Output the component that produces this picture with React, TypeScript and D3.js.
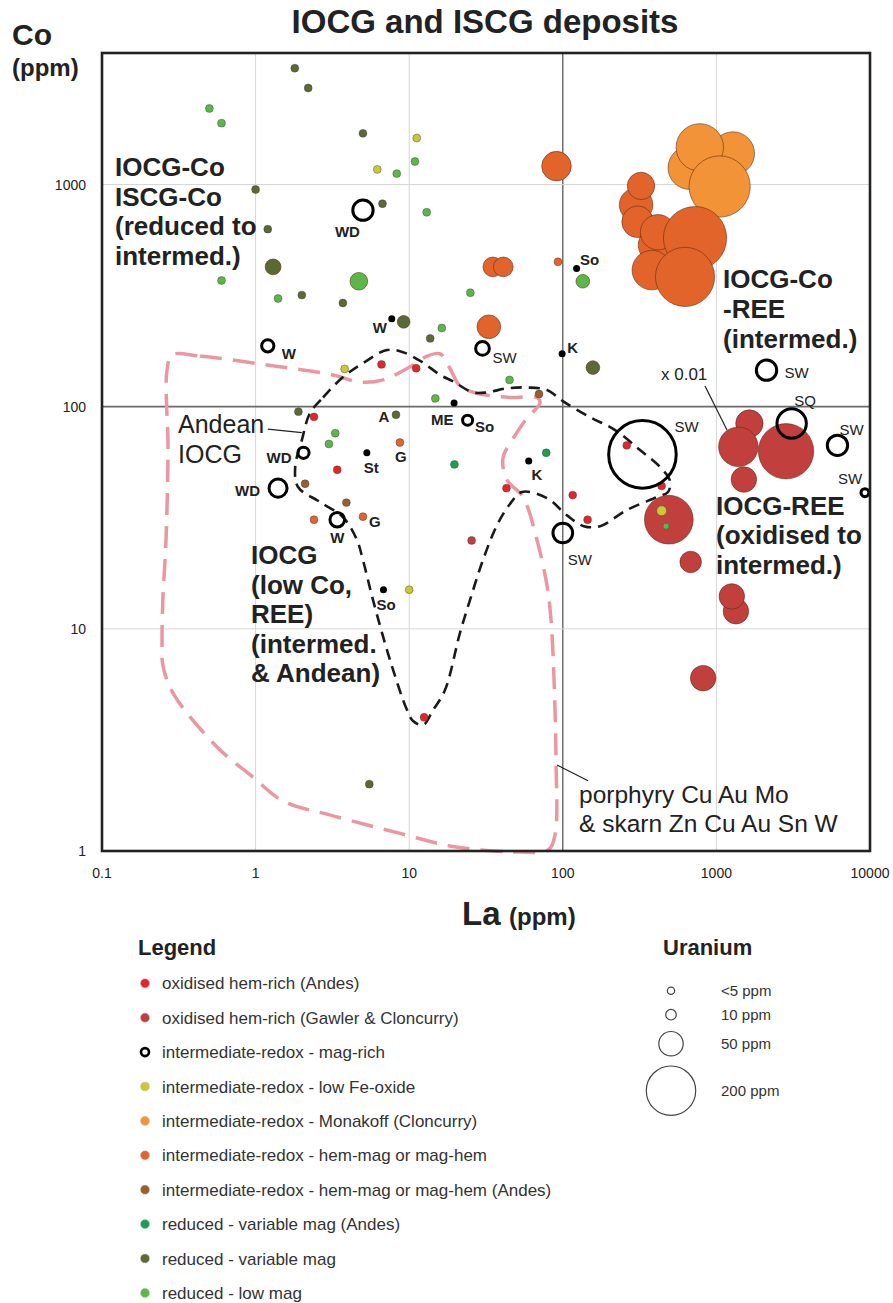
import React from "react";
import * as d3 from "d3";

const FONT = "'Liberation Sans', Arial, Helvetica, sans-serif";

// point rows: [La ppm, Co ppm, U ppm]
const oxidisedAndes = [
  [6.6, 155, 5], [11.1, 149, 5], [2.4, 90, 5], [3.4, 52, 5], [12.5, 4.0, 5],
  [261, 67, 5], [440, 44, 5], [43, 43, 5], [116, 40, 5], [145, 31, 5],
];
const oxidisedGawler = [
  [25.5, 25, 5], [490, 31, 190], [680, 20, 37], [1340, 12, 52], [1260, 14, 52],
  [820, 6, 52], [1640, 84, 60], [1390, 66, 125], [1510, 47, 52], [2840, 63, 245],
];
const lowFeOxide = [
  [11.2, 1620, 5], [6.2, 1170, 5], [3.8, 148, 5], [10, 15, 5], [440, 34, 8],
];
const monakoff = [
  [1280, 1380, 150], [670, 1190, 150], [780, 1470, 180], [1050, 980, 300],
];
const hemMag = [
  [91, 1210, 70], [300, 810, 90], [323, 986, 60], [307, 680, 80],
  [404, 534, 100], [417, 610, 100], [726, 574, 320], [380, 412, 125], [625, 384, 280],
  [93, 449, 5], [35, 426, 31], [41, 426, 31], [33, 229, 45],
  [8.7, 69, 5], [2.4, 31, 5], [5.0, 32, 5],
];
const hemMagAndes = [[70, 114, 5], [2.1, 45, 5], [3.9, 37, 5]];
const variableMagAndes = [[19.7, 55, 5], [78, 62, 5]];
const variableMag = [
  [1.8, 3340, 5], [2.2, 2720, 5], [5.0, 1700, 5], [1.0, 950, 5], [6.7, 820, 5],
  [1.2, 630, 5], [1.3, 426, 20], [2.0, 318, 5], [3.7, 293, 5], [9.2, 241, 13],
  [13.7, 203, 5], [157, 150, 15], [1.9, 95, 5], [8.2, 92, 5], [5.5, 2.0, 5],
];
const lowMag = [
  [0.5, 2200, 5], [0.6, 1890, 5], [8.3, 1120, 5], [10.9, 1270, 5], [13, 750, 5],
  [4.7, 367, 25], [0.6, 370, 5], [1.4, 307, 5], [16.3, 226, 5], [25, 326, 5],
  [135, 367, 15], [45, 132, 5], [14.8, 109, 5], [3.3, 76, 5], [3.0, 68, 5], [470, 29, 3],
];
const magRich = [
  [5.0, 767, 33], [1.2, 188, 12], [30, 183, 15], [24, 87, 8], [2.05, 62, 10],
  [1.4, 43, 26], [3.4, 31, 17], [330, 61, 365], [100, 27, 31], [2120, 146, 33],
  [3090, 84, 69], [6140, 67, 33], [9270, 41, 5],
];
// small black locality dots: [La, Co]
const localityDots = [
  [123, 419], [7.7, 249], [99, 173], [19.6, 104], [5.3, 62], [60, 57], [6.8, 15],
];

// deposit labels: [text, La, Co]
const siteLabels = [
  ["WD", 5.0, 767], ["W", 1.2, 188], ["W", 7.7, 249], ["SW", 30, 183], ["K", 99, 173],
  ["So", 123, 419], ["ME", 19.6, 104], ["So", 24, 87], ["A", 8.2, 92], ["St", 5.3, 62],
  ["G", 8.7, 69], ["WD", 2.05, 62], ["WD", 1.4, 43], ["W", 3.4, 31], ["G", 5.0, 32],
  ["K", 60, 57], ["SW", 100, 27], ["So", 6.8, 15], ["SW", 330, 61], ["SW", 2120, 146],
  ["SQ", 3090, 84], ["SW", 6140, 67], ["SW", 9270, 41],
];
const siteOffsets = [
  [-28, 27], [14, 13.5], [-19, 14.6], [10, 15], [5, -1],
  [3.5, -3], [-23, 22], [7.5, 12], [-17.5, 7], [-3, 20],
  [-5, 19], [-37, 10.6], [-43, 7.4], [-7, 23], [6, 10],
  [2.7, 19], [5, 31.7], [-7, 20], [32, -22.6], [18, 8],
  [2.6, -18], [2, -10.5], [-27, -9],
];

// outline of porphyry Cu Au Mo & skarn field: [La, Co]
const porphyryField = [
  [0.286, 171], [0.435, 169], [1.19, 154], [3.19, 139], [4.79, 129], [6.75, 132],
  [10.6, 154], [13.1, 169], [15.9, 173], [18.4, 149], [21.4, 124], [27.6, 115],
  [45.3, 110], [67.9, 110], [71.1, 104], [58.5, 88.9], [49.5, 75.3], [40.8, 58.7],
  [43.4, 46.7], [55.1, 39.2], [67.9, 25.1], [78.9, 15.7], [83.8, 11.0], [87.7, 5.88],
  [90.3, 2.57], [88.9, 1.18], [80.2, 1.01], [52.6, 0.99], [35.2, 1.0], [18.4, 1.053],
  [8.71, 1.2], [3.19, 1.44], [1.51, 1.68], [0.962, 2.15], [0.561, 2.94], [0.29, 5.14],
  [0.249, 6.87], [0.246, 8.91], [0.249, 13.5], [0.261, 25.1], [0.269, 63.8], [0.265, 146],
];
// outline of IOCG (low Co, REE) field: [La, Co]
const iocgField = [
  [2.26, 93.6], [2.75, 110], [3.71, 136], [5.0, 157], [7.17, 180], [9.12, 176],
  [12.1, 159], [15.9, 139], [19.3, 130], [26.0, 116], [32.1, 116], [43.4, 121],
  [58.5, 122], [78.9, 119], [100, 106], [150, 89.8], [219, 78.5], [318, 63.8],
  [430, 53.5], [499, 46.3], [484, 41.3], [410, 39.2], [262, 34.3], [175, 29.0],
  [137, 29.0], [106, 32.5], [78.9, 38.8], [54.2, 41.3], [45.3, 36.5], [37.3, 29.3],
  [30.2, 20.4], [24.9, 13.5], [21.4, 9.58], [17.1, 5.3], [14.3, 4.31], [12.3, 3.69],
  [10.6, 3.85], [9.68, 4.31], [7.5, 7.24], [5.81, 13.5], [5.0, 20.4], [4.57, 25.1],
  [3.71, 31.8], [2.63, 37.2], [1.89, 43.5], [1.81, 53.5], [2.0, 70.7],
];

// leader lines: [[La, Co], [La, Co]]
const leaders = [
  [[1.2, 79.3], [2.0, 76.5]],
  [[843, 124], [1172, 78.5]],
  [[91.6, 2.44], [146, 2.07]],
];

const xTicks = [0.1, 1, 10, 100, 1000, 10000];
const yTicks = [1, 10, 100, 1000];
const uraniumLevels = [5, 10, 50, 200];
const uraniumLabels = ["<5 ppm", "10 ppm", "50 ppm", "200 ppm"];

const groups = [
  { key: "oxAndes", label: "oxidised hem-rich (Andes)", color: "#e3262b", data: oxidisedAndes },
  { key: "gawler", label: "oxidised hem-rich (Gawler & Cloncurry)", color: "#c13f3d", data: oxidisedGawler },
  { key: "magRich", label: "intermediate-redox - mag-rich", color: "none", data: magRich },
  { key: "lowFe", label: "intermediate-redox - low Fe-oxide", color: "#c9c837", data: lowFeOxide },
  { key: "monakoff", label: "intermediate-redox - Monakoff (Cloncurry)", color: "#f39337", data: monakoff },
  { key: "hemMag", label: "intermediate-redox - hem-mag or mag-hem", color: "#e2642a", data: hemMag },
  { key: "hemMagAndes", label: "intermediate-redox - hem-mag or mag-hem (Andes)", color: "#9a5d2c", data: hemMagAndes },
  { key: "varMagAndes", label: "reduced - variable mag (Andes)", color: "#1c9f50", data: variableMagAndes },
  { key: "varMag", label: "reduced - variable mag", color: "#5b6a33", data: variableMag },
  { key: "lowMag", label: "reduced - low mag", color: "#5bb848", data: lowMag },
];
const drawOrder = ["monakoff", "hemMag", "gawler", "hemMagAndes", "varMag", "lowMag", "varMagAndes", "lowFe", "oxAndes"];

export default function App() {
  const x = d3.scaleLog().domain([0.1, 10000]).range([102, 870]);
  const y = d3.scaleLog().domain([1, 3910]).range([851, 53]);
  const r = d3.scaleSqrt().domain([0, 200]).range([0, 25]);
  const line = d3
    .line()
    .x((d) => x(d[0]))
    .y((d) => y(d[1]))
    .curve(d3.curveCatmullRomClosed.alpha(0.5));

  const byKey = Object.fromEntries(groups.map((g) => [g.key, g]));

  const bold = { fontFamily: FONT, fontWeight: 700, fill: "#222" };
  const plain = { fontFamily: FONT, fontWeight: 400, fill: "#222" };

  const block = (lines, x0, y0, size, style, step) =>
    lines.map((t, i) => (
      <text key={t + i} x={x0} y={y0 + i * step} fontSize={size} style={style}>
        {t}
      </text>
    ));

  const uY = [990.7, 1014.7, 1043.7, 1090.7];

  return (
    <div style={{ position: "absolute", left: 0, top: 0 }}>
      <svg width={893} height={1303} style={{ display: "block", background: "#fff" }}>
        {/* title & axis names */}
        <text x={485} y={33} textAnchor="middle" fontSize={33} style={bold}>
          IOCG and ISCG deposits
        </text>
        <text x={12} y={45} fontSize={30} style={bold}>Co</text>
        <text x={12} y={76} fontSize={24} style={bold}>(ppm)</text>
        <text x={462} y={925} fontSize={33} style={bold}>La</text>
        <text x={509} y={925} fontSize={24} style={bold}>(ppm)</text>

        {/* grid */}
        {xTicks.slice(1, -1).map((t) => (
          <line key={"gx" + t} x1={x(t)} x2={x(t)} y1={53} y2={851}
            stroke={t === 100 ? "#5a5a5a" : "#d6d6d6"} strokeWidth={t === 100 ? 1.3 : 1} />
        ))}
        {yTicks.slice(1).map((t) => (
          <line key={"gy" + t} x1={102} x2={870} y1={y(t)} y2={y(t)}
            stroke={t === 100 ? "#6a6a6a" : "#d6d6d6"} strokeWidth={t === 100 ? 1.8 : 1} />
        ))}

        {/* tick labels */}
        {xTicks.map((t) => (
          <text key={"tx" + t} x={x(t)} y={878} textAnchor="middle" fontSize={14} style={plain}>
            {String(t)}
          </text>
        ))}
        {yTicks.map((t) => (
          <text key={"ty" + t} x={86} y={y(t) + 5} textAnchor="end" fontSize={14} style={plain}>
            {String(t)}
          </text>
        ))}

        {/* fields */}
        <path d={line(porphyryField)} fill="none" stroke="#eb96a3" strokeWidth={3.5} strokeDasharray="22 11" />
        <path d={line(iocgField)} fill="none" stroke="#1a1a1a" strokeWidth={2.6} strokeDasharray="11 7" />

        {/* points */}
        {drawOrder.map((k) =>
          byKey[k].data.map((d, i) => {
            const rad = r(d[2]);
            return (
              <circle key={k + i} cx={x(d[0])} cy={y(d[1])} r={rad} fill={byKey[k].color}
                stroke={rad > 6 ? "#5a2a14" : "#3a3a3a"} strokeOpacity={0.7} strokeWidth={rad > 6 ? 0.8 : 0.6} />
            );
          })
        )}
        {localityDots.map((d, i) => (
          <circle key={"ld" + i} cx={x(d[0])} cy={y(d[1])} r={3.5} fill="#000" />
        ))}
        {magRich.map((d, i) => (
          <circle key={"mr" + i} cx={x(d[0])} cy={y(d[1])} r={r(d[2])} fill="none" stroke="#000" strokeWidth={3} />
        ))}

        {/* leaders */}
        {leaders.map((l, i) => (
          <line key={"ln" + i} x1={x(l[0][0])} y1={y(l[0][1])} x2={x(l[1][0])} y2={y(l[1][1])}
            stroke="#222" strokeWidth={1.2} />
        ))}

        {/* site labels */}
        {siteLabels.map((s, i) => (
          <text key={"sl" + i} x={x(s[1]) + siteOffsets[i][0]} y={y(s[2]) + siteOffsets[i][1]}
            fontSize={15} style={s[0] === "SW" || s[0] === "SQ" ? plain : bold}>
            {s[0]}
          </text>
        ))}

        {/* plot frame */}
        <rect x={102} y={53} width={768} height={798} fill="none" stroke="#222" strokeWidth={2.6} />

        {/* field labels */}
        {block(["IOCG-Co", "ISCG-Co", "(reduced to", "intermed.)"], 115, 176, 26, bold, 29.5)}
        {block(["IOCG-Co", "-REE", "(intermed.)"], 723, 288.3, 26, bold, 30)}
        {block(["IOCG-REE", "(oxidised to", "intermed.)"], 716, 515, 26, bold, 29.3)}
        {block(["IOCG", "(low Co,", "REE)", "(intermed.", "& Andean)"], 251, 564, 26, bold, 29.5)}
        {block(["Andean", "IOCG"], 178, 433.3, 25, plain, 29.4)}
        {block(["porphyry Cu Au Mo", "& skarn Zn Cu Au Sn W"], 579, 802.7, 24.5, plain, 29)}
        <text x={661} y={380} fontSize={17} style={plain}>x 0.01</text>

        {/* legend */}
        <text x={138} y={955} fontSize={22} style={bold}>Legend</text>
        {groups.map((g, i) => {
          const cy = 983.3 + i * 34.4;
          return (
            <g key={"lg" + g.key}>
              {g.key === "magRich" ? (
                <circle cx={145} cy={cy} r={4} fill="none" stroke="#000" strokeWidth={2.6} />
              ) : (
                <circle cx={145} cy={cy} r={4.6} fill={g.color} stroke="#ccc" strokeWidth={0.5} />
              )}
              <text x={162} y={cy + 6} fontSize={17} style={{ ...plain, fill: "#333" }}>
                {g.label}
              </text>
            </g>
          );
        })}

        {/* uranium size legend */}
        <text x={663} y={955} fontSize={22} style={bold}>Uranium</text>
        {uraniumLevels.map((u, i) => (
          <g key={"u" + u}>
            <circle cx={671} cy={uY[i]} r={Math.max(r(u) - 0.3, 3.6)} fill="none" stroke="#444" strokeWidth={1.2} />
            <text x={721} y={uY[i] + 4.8} fontSize={15} style={{ ...plain, fill: "#333" }}>
              {uraniumLabels[i]}
            </text>
          </g>
        ))}
      </svg>
    </div>
  );
}
